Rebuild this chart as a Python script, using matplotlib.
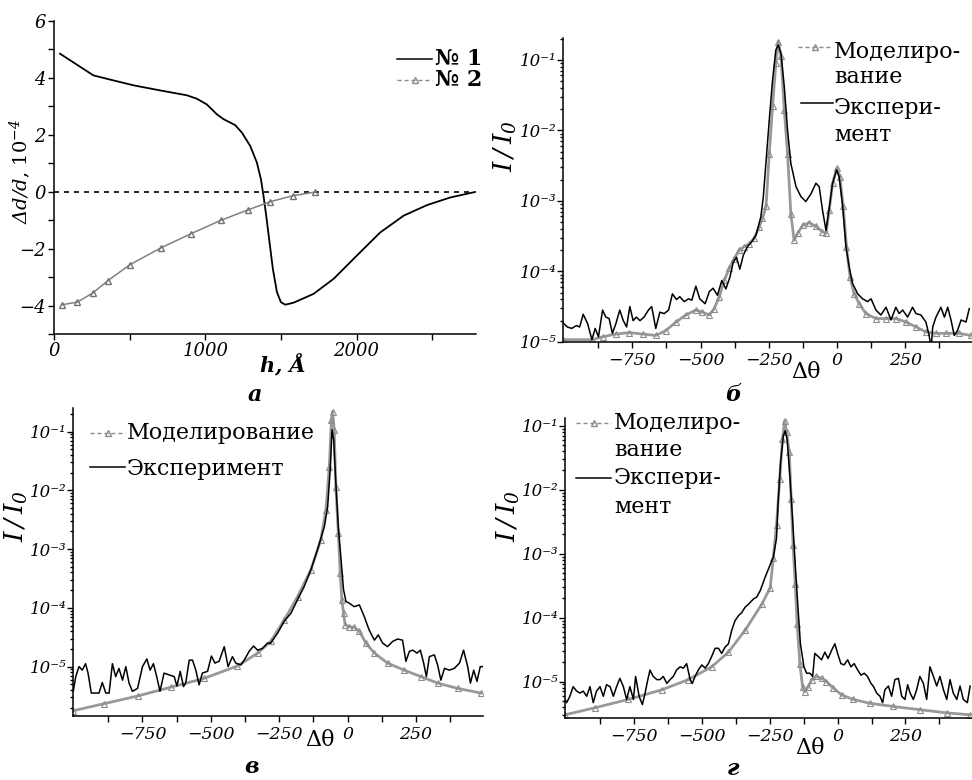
import numpy as np
import matplotlib
matplotlib.use("Agg")
import matplotlib.pyplot as plt
from matplotlib.lines import Line2D
from matplotlib.ticker import FixedLocator, FuncFormatter, LogLocator, NullFormatter, MultipleLocator

plt.rcParams['font.family'] = 'DejaVu Serif'
plt.rcParams['font.style'] = 'italic'
plt.rcParams['mathtext.fontset'] = 'dejavuserif'

# ---------------- (а) strain profiles ----------------
a1_h = [40, 260, 349, 525, 702, 878, 944, 1010, 1077, 1121, 1198, 1242, 1297, 1341, 1368,
        1385, 1403, 1425, 1447, 1474, 1500, 1529, 1584, 1716, 1849, 2003, 2157, 2312, 2466, 2621, 2775]
a1_v = [4.85, 4.09, 3.97, 3.74, 3.56, 3.39, 3.27, 3.07, 2.72, 2.55, 2.34, 2.08, 1.61, 1.03, 0.44,
        -0.14, -0.84, -1.78, -2.71, -3.53, -3.88, -3.97, -3.90, -3.59, -3.06, -2.24, -1.43, -0.84, -0.47, -0.20, -0.02]
a2_h = [55, 154, 256, 357, 503, 708, 904, 1105, 1282, 1430, 1580, 1727]
a2_v = [-3.97, -3.88, -3.56, -3.12, -2.56, -1.97, -1.48, -1.00, -0.64, -0.35, -0.14, -0.01]

# ---------------- (б) rocking curve, log10(I/I0) ----------------
b_exp_x = [-1004, -988, -972, -955, -943, -930, -914, -898, -886, -874, -859, -847, -835, -823, -810,
           -796, -783, -771, -759, -747, -735, -722, -707, -691, -679, -664, -649, -633, -617, -603,
           -588, -576, -560, -544, -532, -517, -503, -483, -468, -454, -438, -422, -407, -392, -380,
           -368, -356, -343, -328, -312, -297, -279, -270, -260, -248, -236, -224, -215, -205, -193,
           -181, -169, -150, -132, -114, -95, -77, -65, -53, -40, -28, -16, -1, 8, 21,
           33, 45, 57, 76, 94, 112, 125, 143, 161, 180, 198, 216, 228, 241, 259,
           277, 290, 308, 326, 338, 345, 351, 363, 381, 394, 406, 418, 430, 442, 455, 473, 485]
b_exp_y = [-4.73, -4.79, -4.81, -4.77, -4.79, -4.61, -4.74, -4.97, -4.81, -4.93, -4.55, -4.65, -4.67, -4.88, -4.74,
           -4.55, -4.70, -4.79, -4.50, -4.70, -4.65, -4.70, -4.65, -4.55, -4.50, -4.81, -4.58, -4.60, -4.55, -4.32,
           -4.40, -4.36, -4.43, -4.39, -4.41, -4.21, -4.39, -4.46, -4.29, -4.24, -4.34, -4.13, -4.25, -4.08, -3.87,
           -3.80, -3.97, -3.77, -3.65, -3.58, -3.49, -3.23, -2.95, -2.45, -1.85, -1.29, -0.86, -0.79, -0.91, -1.38,
           -2.00, -2.47, -2.80, -2.94, -3.01, -2.90, -2.75, -2.80, -3.13, -3.42, -3.09, -2.75, -2.56, -2.66, -3.08,
           -3.65, -3.94, -4.17, -4.32, -4.39, -4.43, -4.39, -4.55, -4.62, -4.51, -4.69, -4.51, -4.60, -4.55, -4.65,
           -4.51, -4.60, -4.62, -4.72, -4.91, -5.10, -4.79, -4.65, -4.51, -4.65, -4.51, -4.69, -4.91, -4.84, -4.69, -4.72, -4.53]
b_sim_x = [-1005, -896, -859, -810, -761, -712, -664, -627, -590, -554, -517, -493, -468, -450, -431,
           -413, -395, -377, -358, -340, -322, -303, -285, -273, -260, -248, -236, -224, -215, -205,
           -193, -181, -169, -157, -144, -126, -102, -77, -53, -40, -28, -16, -1, 11, 23,
           35, 48, 63, 82, 106, 143, 180, 216, 253, 290, 326, 363, 400, 449, 490]
b_sim_y = [-4.97, -4.97, -4.93, -4.89, -4.87, -4.89, -4.91, -4.84, -4.72, -4.62, -4.55, -4.58, -4.62, -4.53, -4.36,
           -4.13, -3.96, -3.82, -3.70, -3.65, -3.61, -3.53, -3.37, -3.25, -3.08, -2.33, -1.66, -1.05, -0.74, -0.95,
           -1.71, -2.33, -3.18, -3.56, -3.46, -3.35, -3.31, -3.36, -3.44, -3.46, -3.13, -2.75, -2.54, -2.66, -3.08,
           -3.65, -4.08, -4.32, -4.46, -4.60, -4.67, -4.67, -4.67, -4.72, -4.79, -4.86, -4.88, -4.88, -4.88, -4.91]

# ---------------- (в) ----------------
c_exp_x = [-1003, -994, -982, -970, -958, -949, -937, -921, -909, -897, -884, -872, -860, -848, -836,
           -823, -811, -799, -787, -768, -750, -734, -722, -710, -698, -686, -671, -653, -634, -624,
           -612, -600, -592, -579, -567, -555, -543, -531, -512, -498, -485, -470, -451, -437, -421,
           -409, -390, -378, -360, -344, -329, -311, -293, -281, -256, -232, -207, -183, -159, -134,
           -110, -85, -73, -63, -57, -51, -43, -34, -24, -15, -6, 6, 24, 43, 61,
           79, 98, 112, 128, 146, 165, 183, 201, 213, 226, 238, 254, 266, 278, 288,
           299, 317, 329, 341, 354, 372, 390, 409, 424, 439, 449, 461, 473, 485, 494]
c_exp_y = [-5.42, -5.17, -5.00, -5.06, -4.95, -5.11, -5.45, -5.45, -5.45, -5.27, -5.45, -5.45, -4.95, -5.17, -5.03,
           -5.23, -5.00, -5.28, -5.42, -5.37, -5.00, -4.87, -5.06, -4.95, -5.17, -5.42, -5.11, -5.14, -5.17, -5.33,
           -5.08, -5.34, -5.28, -4.89, -4.89, -5.06, -5.31, -5.11, -5.08, -4.82, -4.94, -4.91, -4.66, -5.00, -4.83,
           -4.94, -4.97, -4.89, -4.74, -4.65, -4.72, -4.69, -4.60, -4.60, -4.43, -4.23, -4.09, -3.86, -3.64, -3.35,
           -3.01, -2.62, -2.28, -1.60, -0.97, -1.14, -1.88, -2.62, -3.18, -3.69, -3.89, -3.92, -3.98, -3.95, -4.15,
           -4.38, -4.55, -4.46, -4.60, -4.66, -4.57, -4.53, -4.55, -4.91, -4.74, -4.72, -4.77, -4.72, -4.94, -5.17,
           -4.83, -4.80, -4.97, -5.23, -5.03, -5.06, -5.03, -4.94, -4.72, -5.00, -5.28, -5.06, -5.25, -5.00, -5.00]
c_sim_x = [-1003, -890, -768, -646, -525, -403, -329, -281, -232, -183, -134, -98, -79, -67, -59,
           -55, -49, -43, -34, -27, -21, -15, -9, 6, 24, 43, 67, 98, 146, 207, 268, 329, 402, 488]
c_sim_y = [-5.75, -5.63, -5.50, -5.35, -5.20, -4.99, -4.77, -4.57, -4.21, -3.81, -3.35, -2.84, -2.33, -1.60, -0.80,
           -0.66, -0.97, -1.94, -2.73, -3.41, -3.87, -4.09, -4.29, -4.32, -4.33, -4.40, -4.60, -4.77, -4.94, -5.06,
           -5.17, -5.28, -5.37, -5.45]

# ---------------- (г) ----------------
d_exp_x = [-1004, -998, -986, -974, -961, -949, -937, -924, -912, -900, -888, -875, -863, -851, -838,
           -826, -814, -802, -789, -777, -765, -752, -744, -731, -719, -709, -699, -691, -679, -666,
           -654, -642, -629, -617, -605, -593, -580, -568, -556, -543, -535, -525, -513, -500, -488,
           -476, -464, -451, -439, -427, -414, -402, -390, -378, -365, -353, -341, -328, -310, -298,
           -285, -267, -248, -237, -225, -219, -210, -200, -193, -186, -176, -166, -156, -146, -137,
           -124, -114, -102, -92, -84, -71, -59, -47, -35, -22, -10, 0, 12, 24, 37,
           49, 61, 74, 86, 98, 110, 123, 131, 144, 156, 166, 174, 187, 199, 211,
           224, 236, 248, 258, 267, 279, 291, 303, 316, 328, 340, 353, 365, 377, 390,
           402, 414, 426, 439, 451, 463, 478, 488]
d_exp_y = [-5.28, -5.33, -5.23, -5.08, -5.15, -5.18, -5.15, -5.23, -5.08, -5.33, -5.15, -5.08, -5.23, -5.05, -5.08,
           -5.23, -5.08, -4.95, -5.08, -5.28, -5.08, -5.28, -4.92, -5.23, -5.36, -5.18, -4.97, -4.82, -4.92, -4.97,
           -4.97, -4.92, -5.03, -4.97, -4.92, -4.82, -4.77, -4.79, -4.72, -4.97, -5.03, -4.92, -4.82, -4.74, -4.79,
           -4.72, -4.61, -4.48, -4.48, -4.56, -4.46, -4.41, -4.20, -4.05, -3.97, -3.92, -3.84, -3.79, -3.71, -3.68,
           -3.58, -3.37, -3.17, -3.06, -2.76, -2.19, -1.57, -1.16, -1.08, -1.21, -1.78, -2.45, -3.17, -3.84, -4.41,
           -4.77, -4.87, -4.87, -4.92, -4.56, -4.61, -4.66, -4.54, -4.64, -4.51, -4.41, -4.56, -4.72, -4.74, -4.66,
           -4.77, -4.72, -4.82, -4.90, -4.87, -4.92, -5.03, -5.07, -5.18, -5.23, -5.33, -5.13, -5.07, -5.23, -4.97,
           -4.95, -5.23, -5.28, -5.05, -5.18, -5.28, -5.13, -4.92, -5.03, -5.28, -4.77, -4.92, -5.07, -4.92, -5.13,
           -5.28, -4.97, -5.18, -5.28, -5.07, -5.28, -5.33, -5.07]
d_sim_x = [-1004, -894, -771, -648, -550, -464, -402, -341, -279, -248, -237, -225, -213, -203, -195,
           -188, -178, -171, -164, -156, -149, -139, -129, -121, -108, -96, -78, -59, -41, -16,
           15, 58, 119, 205, 303, 402, 488]
d_sim_y = [-5.52, -5.41, -5.28, -5.13, -4.97, -4.77, -4.54, -4.20, -3.79, -3.53, -3.07, -2.55, -1.83, -1.21, -0.92,
           -1.10, -1.41, -2.14, -2.86, -3.48, -4.10, -4.72, -5.08, -5.16, -5.08, -4.97, -4.92, -4.95, -5.00, -5.10,
           -5.21, -5.28, -5.34, -5.39, -5.44, -5.49, -5.52]

W, H = 972.0, 780.0
SUP = str.maketrans('-0123456789', '⁻⁰¹²³⁴⁵⁶⁷⁸⁹')


def rect(l, t, r, b):
    return [l / W, 1 - b / H, (r - l) / W, (b - t) / H]


def fx(px):
    return px / W


def fy(py):
    return 1 - py / H


fig = plt.figure(figsize=(9.72, 7.8), dpi=100)


def legend_key(x0, x1, py, sim):
    if sim:
        fig.add_artist(Line2D([fx(x0), fx(x1)], [fy(py), fy(py)], transform=fig.transFigure,
                              color='0.55', lw=1, ls=(0, (3, 2))))
        fig.add_artist(Line2D([fx((x0 + x1) / 2)], [fy(py)], transform=fig.transFigure,
                              color='0.55', marker='^', ms=4, mfc='none', lw=0))
    else:
        fig.add_artist(Line2D([fx(x0), fx(x1)], [fy(py), fy(py)], transform=fig.transFigure,
                              color='k', lw=1.1))


def ftext(px, py, s, **kw):
    kw.setdefault('va', 'center')
    kw.setdefault('ha', 'left')
    fig.text(fx(px), fy(py), s, **kw)


def style_axes(ax):
    ax.spines['top'].set_visible(False)
    ax.spines['right'].set_visible(False)
    ax.spines['left'].set_linewidth(1.1)
    ax.spines['bottom'].set_linewidth(1.1)
    ax.tick_params(which='both', direction='out', width=1)


def xfmt(v, pos):
    if int(round(v)) % 250 == 0:
        return str(int(round(v))).replace('-', '−')
    return ''


def setup_log(ax, ylo, yhi):
    style_axes(ax)
    ax.set_yscale('log')
    ax.set_xlim(-1004, 495)
    ax.set_ylim(ylo, yhi)
    ax.xaxis.set_major_locator(FixedLocator(list(range(-875, 500, 125))))
    ax.xaxis.set_major_formatter(FuncFormatter(xfmt))
    ax.yaxis.set_major_locator(LogLocator(base=10))
    ax.yaxis.set_minor_locator(LogLocator(base=10, subs=np.arange(2, 10)))
    ax.yaxis.set_minor_formatter(NullFormatter())
    ax.yaxis.set_major_formatter(FuncFormatter(
        lambda v, p: '10' + str(int(round(np.log10(v)))).translate(SUP)))
    ax.tick_params(axis='x', length=4, labelsize=12.5, pad=3)
    ax.tick_params(axis='y', which='major', length=4, labelsize=12, pad=1)
    ax.tick_params(axis='y', which='minor', length=2.5)


def draw_pair(ax, ex, ey, sx, sy):
    ax.plot(sx, 10 ** np.array(sy), color='0.6', lw=2.0, marker='^', ms=4,
            mfc='none', mec='0.55', mew=0.8)
    ax.plot(ex, 10 ** np.array(ey), color='k', lw=1.1)


# ----- (а) -----
axA = fig.add_axes(rect(54, 21, 476, 334))
style_axes(axA)
axA.axhline(0, color='k', lw=1.2, ls=(0, (3, 3)))
axA.plot(a1_h, a1_v, color='k', lw=1.3)
axA.plot(a2_h, a2_v, color='0.5', lw=1.1, marker='^', ms=4, mfc='none', mec='0.45')
axA.set_xlim(0, 2790)
axA.set_ylim(-5, 6)
axA.xaxis.set_major_locator(MultipleLocator(500))
axA.xaxis.set_major_formatter(FuncFormatter(lambda v, p: str(int(v)) if int(v) % 1000 == 0 else ''))
axA.yaxis.set_major_locator(MultipleLocator(1))
axA.yaxis.set_major_formatter(FuncFormatter(
    lambda v, p: str(int(round(v))).replace('-', '−') if int(round(v)) % 2 == 0 else ''))
axA.tick_params(length=4, labelsize=13, pad=2)

ftext(20, 172, r'$\Delta d/d$, 10$^{-4}$', rotation=90, ha='center', fontsize=14, fontstyle='normal')
ftext(283, 365, 'h, Å', ha='center', fontsize=15, fontweight='bold')
legend_key(397, 432, 59, False)
ftext(435, 59, '№ 1', fontsize=16, fontstyle='normal', fontweight='bold')
legend_key(397, 432, 80, True)
ftext(435, 80, '№ 2', fontsize=16, fontstyle='normal', fontweight='bold')

# ----- (б) -----
axB = fig.add_axes(rect(563, 38, 972, 342))
setup_log(axB, 10 ** -5.003, 10 ** -0.69)
draw_pair(axB, b_exp_x, b_exp_y, b_sim_x, b_sim_y)
ftext(505, 146, r'$I\,/\,I_0$', rotation=90, ha='center', fontsize=19, fontstyle='normal')
ftext(806, 372, 'Δθ', ha='center', fontsize=16, fontstyle='normal')
legend_key(798, 831, 47, True)
ftext(834, 52, 'Моделиро-', fontsize=16, fontstyle='normal')
ftext(834, 77, 'вание', fontsize=16, fontstyle='normal')
legend_key(801, 833, 103, False)
ftext(834, 108, 'Экспери-', fontsize=16, fontstyle='normal')
ftext(834, 135, 'мент', fontsize=16, fontstyle='normal')

# ----- (в) -----
axC = fig.add_axes(rect(73, 408, 483, 716))
setup_log(axC, 10 ** -5.84, 10 ** -0.60)
draw_pair(axC, c_exp_x, c_exp_y, c_sim_x, c_sim_y)
ftext(16, 516, r'$I\,/\,I_0$', rotation=90, ha='center', fontsize=19, fontstyle='normal')
ftext(320, 740, 'Δθ', ha='center', fontsize=16, fontstyle='normal')
legend_key(90, 125, 433, True)
ftext(127, 433, 'Моделирование', fontsize=16, fontstyle='normal')
legend_key(90, 125, 467, False)
ftext(127, 469, 'Эксперимент', fontsize=16, fontstyle='normal')

# ----- (г) -----
axD = fig.add_axes(rect(565, 418, 972, 718))
setup_log(axD, 10 ** -5.57, 10 ** -0.88)
draw_pair(axD, d_exp_x, d_exp_y, d_sim_x, d_sim_y)
ftext(508, 516, r'$I\,/\,I_0$', rotation=90, ha='center', fontsize=19, fontstyle='normal')
ftext(810, 748, 'Δθ', ha='center', fontsize=16, fontstyle='normal')
legend_key(576, 611, 423, True)
ftext(614, 423, 'Моделиро-', fontsize=16, fontstyle='normal')
ftext(614, 450, 'вание', fontsize=16, fontstyle='normal')
legend_key(576, 611, 478, False)
ftext(614, 478, 'Экспери-', fontsize=16, fontstyle='normal')
ftext(614, 507, 'мент', fontsize=16, fontstyle='normal')

# panel letters
for px, py, s in [(255, 401, 'а'), (733, 401, 'б'), (252, 773, 'в'), (733, 775, 'г')]:
    ftext(px, py, s, ha='center', va='baseline', fontsize=16, fontweight='bold')

fig.savefig('out.png', dpi=100)
